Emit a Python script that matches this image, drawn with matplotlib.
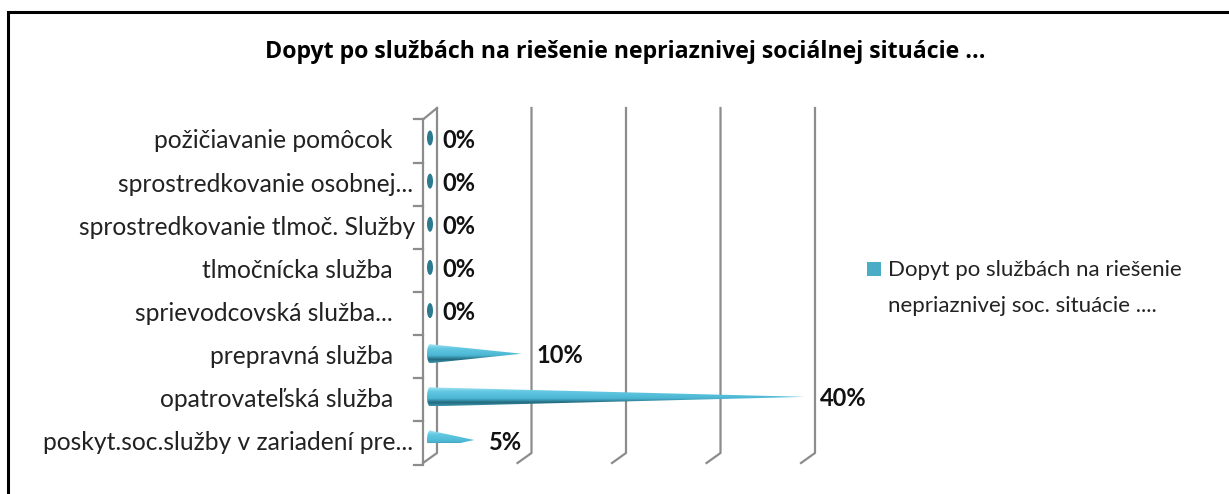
import matplotlib
matplotlib.use("Agg")
import matplotlib.pyplot as plt
import numpy as np
from matplotlib.patches import Rectangle, Ellipse, PathPatch
from matplotlib.path import Path
from matplotlib.colors import LinearSegmentedColormap

# ---------------- data ----------------
categories = [
    "požičiavanie pomôcok",
    "sprostredkovanie osobnej...",
    "sprostredkovanie tlmoč. Služby",
    "tlmočnícka služba",
    "sprievodcovská služba...",
    "prepravná služba",
    "opatrovateľská služba",
    "poskyt.soc.služby v zariadení pre...",
]
values = [0, 0, 0, 0, 0, 10, 40, 5]
x_ticks = [0, 10, 20, 30, 40]
title = "Dopyt po službách na riešenie nepriaznivej sociálnej situácie ..."
legend_lines = ["Dopyt po službách na riešenie", "nepriaznivej soc. situácie ...."]

# ---------------- layout ----------------
W, H = 1229, 494
plt.rcParams['font.family'] = ['Lato', 'DejaVu Sans']
fig = plt.figure(figsize=(W / 100, H / 100), dpi=100)
fig.patch.set_facecolor("white")

def fx(px):
    return px / W

def fy(py):
    return 1 - py / H

# outer frame (left and top visible)
fig.patches.append(Rectangle((fx(8), fy(H + 20)), fx(W + 40), fy(12) - fy(H + 20),
                             transform=fig.transFigure, fill=False,
                             edgecolor="black", linewidth=2.2))

# plotting axes: x=0 at 427px, x=40 at 805px; first category at 141px, last at 443px
x0_px, x40_px = 427, 805
ytop_px, ybot_px = 141, 443
n = len(categories)
ax = fig.add_axes([fx(x0_px), fy(ybot_px), (x40_px - x0_px) / W, (ybot_px - ytop_px) / H])
ax.axis("off")

ux = (x40_px - x0_px) / 40.0          # px per unit x
uy = (ybot_px - ytop_px) / (n - 1)    # px per unit y (downward)

def dx(px):
    return px / ux

def dy(px):
    return px / uy

grid_c = "#8c8c8c"
grid_lw = 1.6
front_dx, back_dx = -4, 10
front_top, front_bot = -21.5, 322
back_top, back_bot = -33, 312

for v in x_ticks:
    xb = v + dx(back_dx)
    xf = v + dx(front_dx)
    ax.plot([xb, xb, xf], [dy(back_top), dy(back_bot), dy(front_bot)],
            color=grid_c, lw=grid_lw, clip_on=False, solid_joinstyle="round")
xf0 = dx(front_dx)
xb0 = dx(back_dx)
ax.plot([xf0, xf0], [dy(front_top), dy(front_bot)], color=grid_c, lw=grid_lw, clip_on=False)
ax.plot([xf0, xb0], [dy(front_top), dy(back_top)], color=grid_c, lw=grid_lw, clip_on=False)
for k in range(n + 1):
    yk = k - 0.5
    ax.plot([xf0 - dx(9), xf0], [yk, yk], color=grid_c, lw=grid_lw, clip_on=False)

# cones
cmap = LinearSegmentedColormap.from_list(
    "cone", [(0.0, "#a6e4f3"), (0.22, "#62c8e2"), (0.6, "#4cb6d3"),
             (0.82, "#23697d"), (1.0, "#3f96ad")])
grad = np.linspace(0, 1, 64).reshape(-1, 1)
half_h = dy(9.5)
ell_w, ell_h = dx(6), dy(15)
base_x = dx(3)
shift = dy(-3)
for i, v in enumerate(values):
    yc = i + shift
    if v == 0:
        ax.add_patch(Ellipse((base_x, yc), ell_w, ell_h, facecolor="#2b7a8f",
                             edgecolor="none", clip_on=False, zorder=3))
    else:
        tri = Path([(base_x, yc - half_h), (v, yc), (base_x, yc + half_h), (base_x, yc - half_h)],
                   [Path.MOVETO, Path.LINETO, Path.LINETO, Path.CLOSEPOLY])
        t = np.linspace(0, 2 * np.pi, 60)
        ev = np.column_stack([base_x + ell_w / 2 * np.cos(t), yc + half_h * np.sin(t)])
        comp = Path.make_compound_path(tri, Path(ev, closed=True))
        pp = PathPatch(comp, facecolor="none", edgecolor="none", transform=ax.transData)
        ax.add_patch(pp)
        im = ax.imshow(grad, cmap=cmap, aspect="auto",
                       extent=[base_x - ell_w, v, yc + half_h, yc - half_h],
                       origin="upper", zorder=3)
        im.set_clip_path(pp)
    ax.annotate(f"{v}%", xy=(v, i), xytext=(15, 1), textcoords="offset pixels",
                ha="left", va="center", fontsize=17, fontweight="bold",
                color="#111111", annotation_clip=False)
ax.set_xlim(0, 40)
ax.set_ylim(n - 1, 0)

# category labels
label_right_px = [393, 413, 415, 393, 393, 393, 393, 413]
for i, (lab, r) in enumerate(zip(categories, label_right_px)):
    ax.annotate(lab, xy=(0, i), xytext=(r - x0_px, 0), textcoords="offset pixels",
                ha="right", va="center", fontsize=17.7, color="#222222",
                annotation_clip=False)

# title
fig.text(fx(625), fy(52), title, ha="center", va="center", fontsize=16.7,
         fontweight="bold", color="black", family=["Open Sans", "DejaVu Sans"])

# legend
fig.patches.append(Rectangle((fx(867), fy(276)), fx(14), fy(262) - fy(276),
                             transform=fig.transFigure, facecolor="#4bacc6",
                             edgecolor="none"))
fig.text(fx(888), fy(270), legend_lines[0], ha="left", va="center",
         fontsize=16, color="#222222")
fig.text(fx(888), fy(306), legend_lines[1], ha="left", va="center",
         fontsize=16, color="#222222")

fig.savefig("out.png", dpi=100, facecolor="white")
